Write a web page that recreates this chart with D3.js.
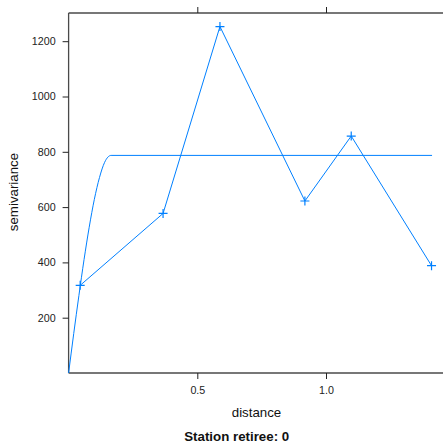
<!DOCTYPE html>
<html><head><meta charset="utf-8">
<script src="https://cdn.jsdelivr.net/npm/d3@7"></script>
<style>body{margin:0;background:#fff;} svg{display:block;}</style>
</head><body>
<script>
// empirical variogram
const dist = [0.045, 0.367, 0.588, 0.918, 1.098, 1.410];
const gamma = [317, 577, 1253, 622, 857, 388];
// fitted model line
const modelDist  = [0, 0.02, 0.04, 0.06, 0.08, 0.10, 0.12, 0.14, 0.165, 1.412];
const modelGamma = [0, 143, 280, 410, 527, 628, 707, 762, 787, 787];
const xTicks = [0.5, 1.0];
const yTicks = [200, 400, 600, 800, 1000, 1200];
const xTickLabels = ["0.5", "1.0"];
const xTitle = "distance", yTitle = "semivariance", mainTitle = "Station retiree: 0";

const W = 443, H = 443;
const svg = d3.select("body").append("svg").attr("width", W).attr("height", H);
const x = d3.scaleLinear().domain([0, 1.46]).range([68.6, 68.6 + 1.46 * 257.4]);
const y = d3.scaleLinear().domain([0, 1302]).range([373, 13]);
const blue = "#0080ff", axcol = "#4a4a4a";
const font = "Liberation Sans, Arial, Helvetica, sans-serif";

// box
svg.append("line").attr("x1", x(0)).attr("x2", W + 5).attr("y1", y(0)).attr("y2", y(0)).attr("stroke", axcol).attr("stroke-width", 1.3);
svg.append("line").attr("x1", x(0)).attr("x2", W + 5).attr("y1", y(1302)).attr("y2", y(1302)).attr("stroke", axcol).attr("stroke-width", 1.3);
svg.append("line").attr("x1", x(0)).attr("x2", x(0)).attr("y1", y(0)).attr("y2", y(1302)).attr("stroke", axcol).attr("stroke-width", 1.3);

// axes via d3
const gl = svg.append("g").attr("transform", `translate(${x(0)},0)`)
  .call(d3.axisLeft(y).tickValues(yTicks).tickFormat(d3.format("d")).tickSize(6).tickPadding(7));
const gb = svg.append("g").attr("transform", `translate(0,${y(0)})`)
  .call(d3.axisBottom(x).tickValues(xTicks).tickFormat((d,i)=>xTickLabels[i]).tickSize(6).tickPadding(7.5));
const gt = svg.append("g").attr("transform", `translate(0,${y(1302)})`)
  .call(d3.axisTop(x).tickValues(xTicks).tickFormat("").tickSize(6));
[gl, gb, gt].forEach(g => {
  g.select(".domain").remove();
  g.selectAll(".tick line").attr("stroke", "#222");
  g.selectAll("text").attr("font-family", font).attr("font-size", 10.7).attr("fill", "#222");
});

// model line
svg.append("path")
  .attr("d", d3.line().x((d,i)=>x(modelDist[i])).y((d,i)=>y(modelGamma[i])).curve(d3.curveMonotoneX)(modelDist))
  .attr("fill", "none").attr("stroke", blue).attr("stroke-width", 1);

// empirical line
svg.append("path")
  .attr("d", d3.line().x((d,i)=>x(dist[i])).y((d,i)=>y(gamma[i]))(dist))
  .attr("fill", "none").attr("stroke", blue).attr("stroke-width", 1);

// plus markers
svg.append("g").selectAll("path").data(dist).join("path")
  .attr("transform", (d,i)=>`translate(${x(d)},${y(gamma[i])})`)
  .attr("d", "M-4.5,0H4.5M0,-4.5V4.5")
  .attr("stroke", blue).attr("stroke-width", 1.2);

// titles
svg.append("text").attr("x", 256.5).attr("y", 416.7).attr("text-anchor", "middle")
  .attr("font-family", font).attr("font-size", 13.3).attr("fill", "#111").text(xTitle);
svg.append("text").attr("transform", `translate(17.7,192) rotate(-90)`).attr("text-anchor", "middle")
  .attr("font-family", font).attr("font-size", 13.3).attr("fill", "#111").text(yTitle);
svg.append("text").attr("x", 236.7).attr("y", 440.7).attr("text-anchor", "middle")
  .attr("font-family", font).attr("font-size", 13.3).attr("font-weight", "bold").attr("fill", "#111").text(mainTitle);
</script>
</body></html>
